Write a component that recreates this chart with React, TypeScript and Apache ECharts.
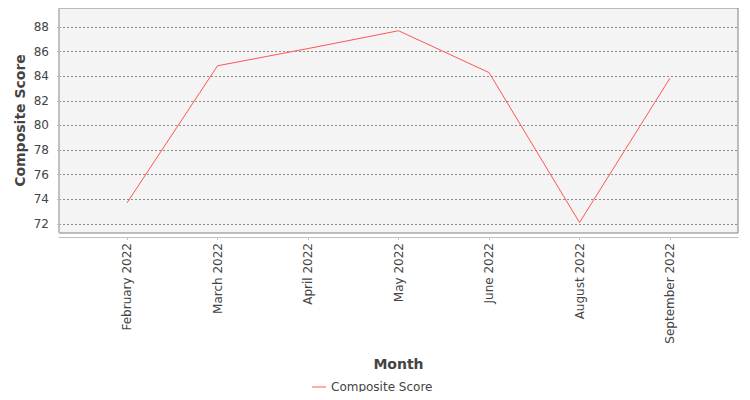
import { useEffect, useRef } from 'react';
import * as echarts from 'echarts';

const months = [
  'February 2022',
  'March 2022',
  'April 2022',
  'May 2022',
  'June 2022',
  'August 2022',
  'September 2022',
];
const compositeScore = [73.7, 84.85, 86.25, 87.7, 84.3, 72.1, 83.85];
const yMin = 71.25;
const yMax = 89.55;

const font = '"DejaVu Sans", sans-serif';

export default function App() {
  const chartRef = useRef<HTMLDivElement>(null);

  useEffect(() => {
    if (!chartRef.current) return;
    const chart = echarts.init(chartRef.current, undefined, { renderer: 'svg' });

    const option: echarts.EChartsCoreOption = {
      animation: false,
      backgroundColor: '#ffffff',
      textStyle: { fontFamily: font },
      grid: [
        {
          left: 59,
          top: 8,
          width: 679,
          height: 225,
          show: true,
          backgroundColor: '#f4f4f4',
          borderColor: '#808080',
          borderWidth: 1,
        },
        {
          left: 81.75,
          top: 8,
          width: 633.5,
          height: 225,
        },
      ],
      legend: {
        left: 307,
        bottom: 2,
        icon: 'rect',
        itemWidth: 14,
        itemHeight: 1,
        itemGap: 10,
        textStyle: { fontFamily: font, fontSize: 12, color: '#444' },
        data: ['Composite Score'],
      },
      xAxis: [
        {
          gridIndex: 0,
          type: 'value',
          min: 0,
          max: 1,
          offset: 4,
          axisLine: { show: true, lineStyle: { color: '#c0c0c0', width: 1 } },
          axisTick: { show: false },
          axisLabel: { show: false },
          splitLine: { show: false },
        },
        {
          gridIndex: 1,
          type: 'category',
          data: months,
          boundaryGap: true,
          offset: 4,
          axisLine: { show: false },
          axisTick: {
            show: true,
            alignWithLabel: true,
            length: 3,
            lineStyle: { color: '#c0c0c0' },
          },
          axisLabel: {
            rotate: 90,
            margin: 6,
            fontFamily: font,
            fontSize: 12,
            color: '#444',
          },
          name: 'Month',
          nameLocation: 'middle',
          nameGap: 120,
          nameMoveOverlap: false,
          nameTextStyle: {
            fontFamily: font,
            fontSize: 14,
            fontWeight: 'bold',
            color: '#444',
          },
        },
      ],
      yAxis: [
        {
          gridIndex: 0,
          type: 'value',
          min: yMin,
          max: yMax,
          splitNumber: 9,
          offset: 4,
          axisLine: { show: true, lineStyle: { color: '#c0c0c0', width: 1 } },
          axisTick: { show: true, length: 2, lineStyle: { color: '#c0c0c0' } },
          axisLabel: {
            showMinLabel: false,
            showMaxLabel: false,
            margin: 6,
            fontFamily: font,
            fontSize: 12,
            color: '#444',
          },
          splitLine: {
            show: true,
            showMinLine: false,
            showMaxLine: false,
            lineStyle: { color: '#8a8a8a', width: 1, type: [2, 2] },
          },
          name: 'Composite Score',
          nameLocation: 'middle',
          nameGap: 28,
          nameMoveOverlap: false,
          nameTextStyle: {
            fontFamily: font,
            fontSize: 14,
            fontWeight: 'bold',
            color: '#444',
          },
        },
        {
          gridIndex: 1,
          type: 'value',
          min: yMin,
          max: yMax,
          show: false,
        },
      ],
      series: [
        {
          name: 'Composite Score',
          type: 'line',
          xAxisIndex: 1,
          yAxisIndex: 1,
          data: compositeScore,
          showSymbol: false,
          symbol: 'none',
          lineStyle: { color: '#ff5555', width: 1 },
          itemStyle: { color: '#ff5555' },
        },
      ],
    };

    chart.setOption(option);
    return () => {
      chart.dispose();
    };
  }, []);

  return <div ref={chartRef} style={{ width: 750, height: 400, margin: -8 }} />;
}
